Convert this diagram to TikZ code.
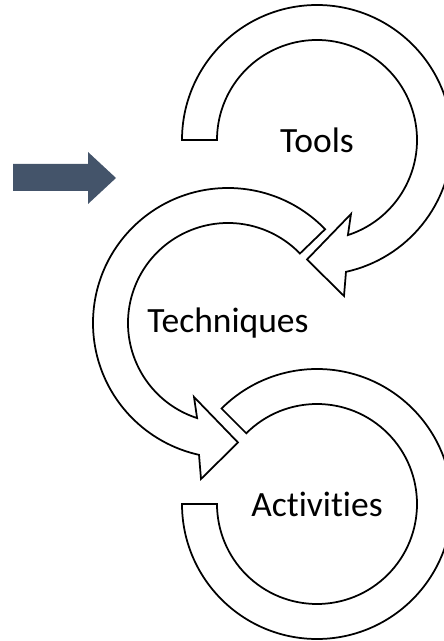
\documentclass[tikz,border=0pt]{standalone}
\usepackage{fontspec}
\setmainfont{Carlito}[Ligatures={NoCommon}]
\usepackage{tikz}
\usetikzlibrary{positioning}

\definecolor{slateblue}{HTML}{44546A}

% one looping arrow around the origin, tail at angle #1, head at the bottom
\newcommand{\loopArrow}[1]{%
	(#1:135) arc[start angle=#1, end angle=-77.6, radius=135]
	-- (27,-156) -- (-10,-119.5) -- (34,-74)
	-- (-72:100) arc[start angle=-72, end angle=#1, radius=100] -- cycle}

\begin{document}
\begin{tikzpicture}[x=1pt, y=1pt]
	
	\tikzset{ring/.style={
			draw=black,
			fill=white,
			line width=1.75pt,
			line join=miter
		},
		label text/.style={
			font=\fontsize{35.5}{42}\selectfont,
			inner sep=0pt
		}
	}
	
	\clip (0,0) rectangle (444,641);
	
	\coordinate (toolsc) at (317,501);
	\coordinate (techc) at (228,318);
	\coordinate (actc) at (317,137);
	
	% pointer on the left
	\fill[slateblue] (13,477) -- (88,477) -- (88,489) -- (116,463)
		-- (88,437) -- (88,450) -- (13,450) -- cycle;
	
	\begin{scope}[shift={(toolsc)}]
		\draw[ring] \loopArrow{180};
	\end{scope}
	
	\begin{scope}[shift={(techc)}, xscale=-1]
		\draw[ring] \loopArrow{136};
	\end{scope}
	
	\begin{scope}[shift={(actc)}]
		\draw[ring] (180:135) arc[start angle=180, end angle=495, radius=135]
			-- (135:100) arc[start angle=495, end angle=180, radius=100] -- cycle;
	\end{scope}
	
	\node[label text] (tools) at (toolsc) {Tools};
	\node[label text] (techniques) at (techc) {Techniques};
	\node[label text] (activities) at (actc) {Activities};
	
\end{tikzpicture}
\end{document}
